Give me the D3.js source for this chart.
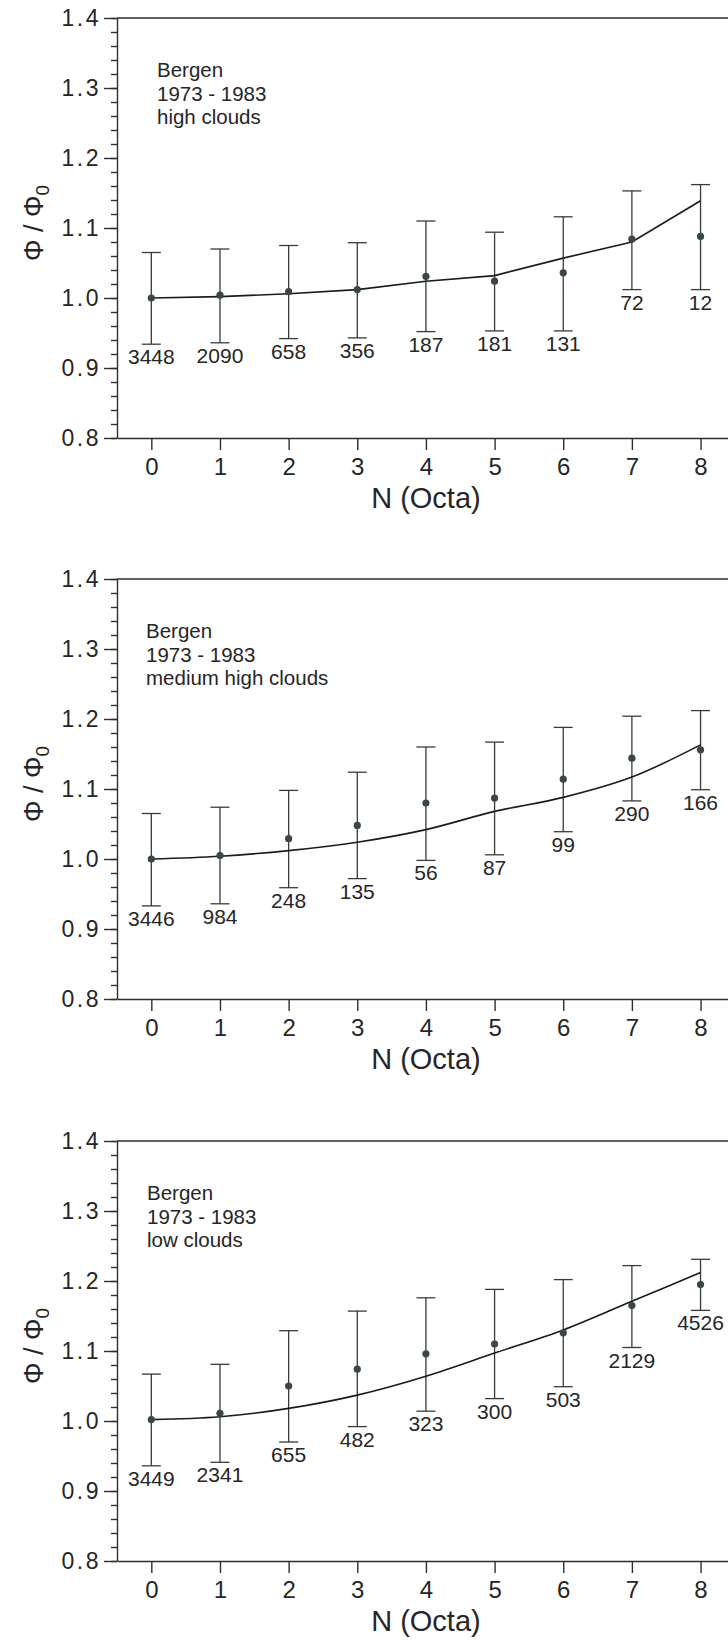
<!DOCTYPE html>
<html lang="en">
<head>
<meta charset="UTF-8">
<title>Bergen 1973 - 1983: relative irradiance vs cloud cover</title>
<script src="https://d3js.org/d3.v7.min.js"></script>
<style>
  body { margin: 0; background: #fff; }
  svg { display: block; font-family: "Liberation Sans", Arial, Helvetica, sans-serif; fill: #232323; }
  .axis path, .axis line { stroke: #2e2e2e; stroke-width: 1.4; fill: none; }
  .axis text { fill: #262626; }
  .yaxis text { font-size: 23px; letter-spacing: 2.5px; }
  .xaxis text { font-size: 24px; }
  .frame { stroke: #2e2e2e; stroke-width: 1.4; }
  .err { stroke: #3a3a3a; stroke-width: 1.3; }
  .model { fill: none; stroke: #1b1b1b; stroke-width: 1.6; }
  .pt { fill: #3a4743; }
  .count { font-size: 21px; text-anchor: middle; fill: #262626; }
  .note { font-size: 20.5px; fill: #262626; }
  .xtitle { font-size: 29px; text-anchor: middle; fill: #262626; }
  .ytitle { font-size: 27px; text-anchor: middle; fill: #262626; }
</style>
</head>
<body>
<div id="chart"></div>
<script>
// cloud amount (octa) and axis ticks
const octas = [0, 1, 2, 3, 4, 5, 6, 7, 8];
const yMajor = [0.8, 0.9, 1.0, 1.1, 1.2, 1.3, 1.4];
const yMinor = d3.range(0.8, 1.4001, 0.02).map(v => +v.toFixed(2));

// high clouds
const count1 = [3448, 2090, 658, 356, 187, 181, 131, 72, 12];
const mean1  = [1.000, 1.004, 1.009, 1.012, 1.031, 1.024, 1.036, 1.084, 1.088];
const upper1 = [1.065, 1.070, 1.075, 1.079, 1.110, 1.094, 1.116, 1.153, 1.162];
const lower1 = [0.934, 0.936, 0.942, 0.943, 0.952, 0.953, 0.953, 1.012, 1.012];
const model1 = [1.000, 1.002, 1.006, 1.012, 1.024, 1.032, 1.057, 1.080, 1.139];

// medium high clouds
const count2 = [3446, 984, 248, 135, 56, 87, 99, 290, 166];
const mean2  = [1.000, 1.005, 1.029, 1.048, 1.080, 1.087, 1.114, 1.144, 1.156];
const upper2 = [1.065, 1.074, 1.098, 1.124, 1.160, 1.167, 1.188, 1.204, 1.212];
const lower2 = [0.933, 0.936, 0.959, 0.972, 0.998, 1.006, 1.039, 1.083, 1.099];
const model2 = [1.000, 1.004, 1.012, 1.024, 1.042, 1.068, 1.088, 1.117, 1.163];

// low clouds
const count3 = [3449, 2341, 655, 482, 323, 300, 503, 2129, 4526];
const mean3  = [1.002, 1.011, 1.050, 1.074, 1.096, 1.110, 1.126, 1.165, 1.195];
const upper3 = [1.067, 1.081, 1.129, 1.157, 1.176, 1.188, 1.202, 1.222, 1.231];
const lower3 = [0.936, 0.941, 0.970, 0.992, 1.014, 1.032, 1.049, 1.105, 1.158];
const model3 = [1.002, 1.006, 1.018, 1.037, 1.064, 1.097, 1.130, 1.171, 1.212];

const panels = [
  { label: ["Bergen", "1973 - 1983", "high clouds"], count: count1, mean: mean1, upper: upper1, lower: lower1, model: model1, top: 18, noteX: 157, curve: d3.curveLinear },
  { label: ["Bergen", "1973 - 1983", "medium high clouds"], count: count2, mean: mean2, upper: upper2, lower: lower2, model: model2, top: 579, noteX: 146, curve: d3.curveMonotoneX },
  { label: ["Bergen", "1973 - 1983", "low clouds"], count: count3, mean: mean3, upper: upper3, lower: lower3, model: model3, top: 1141, noteX: 147, curve: d3.curveMonotoneX }
];

const W = 728, H = 1640;
const plotH = 420;

const svg = d3.select("#chart").append("svg")
  .attr("width", W).attr("height", H);

const x = d3.scaleLinear().domain([-0.5, 8.4]).range([117, W]);

panels.forEach(p => {
  const y = d3.scaleLinear().domain([0.8, 1.4]).range([p.top + plotH, p.top]);
  const g = svg.append("g");

  // top frame line
  g.append("line").attr("class", "frame")
    .attr("x1", x(-0.5)).attr("x2", W)
    .attr("y1", y(1.4)).attr("y2", y(1.4));

  // y axis: minor then major ticks
  g.append("g").attr("class", "axis")
    .attr("transform", `translate(${x(-0.5)},0)`)
    .call(d3.axisLeft(y).tickValues(yMinor).tickSize(6).tickFormat(""))
    .call(a => a.select(".domain").remove());

  g.append("g").attr("class", "axis yaxis")
    .attr("transform", `translate(${x(-0.5)},0)`)
    .call(d3.axisLeft(y).tickValues(yMajor).tickSize(13).tickSizeOuter(0).tickPadding(3).tickFormat(d3.format(".1f")));

  // x axis
  g.append("g").attr("class", "axis xaxis")
    .attr("transform", `translate(0,${y(0.8)})`)
    .call(d3.axisBottom(x).tickValues(octas).tickSize(12).tickSizeOuter(0).tickPadding(8));

  // error bars
  const bars = g.append("g");
  octas.forEach((n, i) => {
    bars.append("line").attr("class", "err")
      .attr("x1", x(n)).attr("x2", x(n))
      .attr("y1", y(p.upper[i])).attr("y2", y(p.lower[i]));
    [p.upper[i], p.lower[i]].forEach(v => {
      bars.append("line").attr("class", "err")
        .attr("x1", x(n) - 9.5).attr("x2", x(n) + 9.5)
        .attr("y1", y(v)).attr("y2", y(v));
    });
    bars.append("text").attr("class", "count")
      .attr("x", x(n)).attr("y", y(p.lower[i]) + 20)
      .text(p.count[i]);
  });

  // model curve
  const line = d3.line()
    .x((d, i) => x(octas[i]))
    .y(d => y(d))
    .curve(p.curve);
  g.append("path").attr("class", "model").attr("d", line(p.model));

  // observed means
  g.selectAll(".pt").data(p.mean).enter().append("circle")
    .attr("class", "pt")
    .attr("cx", (d, i) => x(octas[i]))
    .attr("cy", d => y(d))
    .attr("r", 3.6);

  // station note
  const note = g.append("text").attr("class", "note")
    .attr("x", p.noteX).attr("y", p.top + 59);
  p.label.forEach((t, i) => {
    note.append("tspan").attr("x", p.noteX).attr("dy", i === 0 ? 0 : 23.5).text(t);
  });

  // axis titles
  g.append("text").attr("class", "xtitle")
    .attr("x", x(4)).attr("y", y(0.8) + 70)
    .text("N (Octa)");

  const yt = g.append("text").attr("class", "ytitle")
    .attr("transform", `translate(43,${p.top + 205}) rotate(-90)`);
  yt.append("tspan").text("Φ / Φ");
  yt.append("tspan").attr("font-size", "19px").attr("dy", 6).text("0");
});
</script>
</body>
</html>
